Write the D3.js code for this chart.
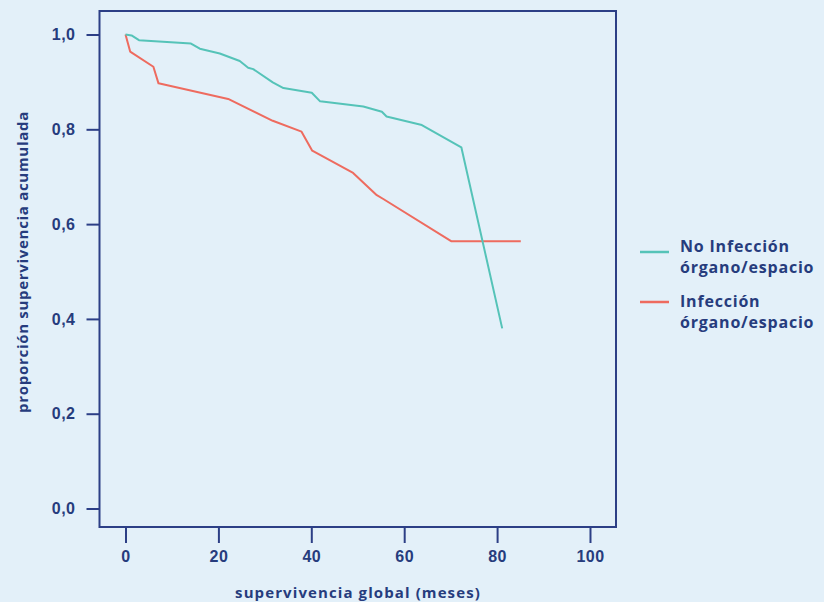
<!DOCTYPE html>
<html>
<head>
<meta charset="utf-8">
<script src="https://cdn.jsdelivr.net/npm/d3@7"></script>
<style>
  html, body { margin: 0; padding: 0; background: #e3f0f9; }
  svg { display: block; font-family: "Open Sans", sans-serif; font-weight: 700; }
  .axis text { fill: #263c7d; font-size: 16px; font-weight: 700; letter-spacing: 0.5px; }
  .axis line { stroke: #2c3f86; stroke-width: 2; }
  .axis path { display: none; }
</style>
</head>
<body>
<div id="chart"></div>
<script>
  // data
  var xTicks = [0, 20, 40, 60, 80, 100];
  var yTicks = [0, 0.2, 0.4, 0.6, 0.8, 1.0];

  var noInfMonths = [0, 1.3, 2.9, 14.1, 16.0, 20.3, 24.6, 26.4, 27.5, 31.7, 34.0, 40.1, 41.9, 51.2, 55.2, 56.2, 63.8, 72.3, 81.1];
  var noInfSurv   = [1.0, 0.998, 0.988, 0.981, 0.970, 0.960, 0.944, 0.930, 0.927, 0.899, 0.887, 0.877, 0.859, 0.848, 0.837, 0.827, 0.809, 0.762, 0.380];

  var infMonths = [0, 1.0, 6.0, 7.1, 22.1, 31.7, 37.9, 40.2, 49.0, 54.1, 55.5, 70.1, 85.1];
  var infSurv   = [1.0, 0.964, 0.932, 0.897, 0.864, 0.818, 0.795, 0.755, 0.708, 0.661, 0.653, 0.564, 0.564];

  var seriesNames = [["No Infección", "órgano/espacio"], ["Infección", "órgano/espacio"]];
  var seriesColors = ["#55c3b8", "#ee6b5f"];

  var width = 824, height = 602;
  var frame = { left: 99.5, right: 616, top: 11, bottom: 527 };
  var navy = "#2c3f86", textColor = "#263c7d";

  var svg = d3.select("#chart").append("svg")
    .attr("width", width)
    .attr("height", height);

  var x = d3.scaleLinear()
    .domain([-5.6, 105.6])
    .range([frame.left, frame.right]);

  var y = d3.scaleLinear()
    .domain([-0.039, 1.0496])
    .range([frame.bottom, frame.top]);

  var fmt = function(d) { return d3.format(".1f")(d).replace(".", ","); };

  var yAxis = d3.axisLeft(y)
    .tickValues(yTicks)
    .tickSizeInner(13)
    .tickSizeOuter(0)
    .tickPadding(11)
    .tickFormat(fmt);

  var xAxis = d3.axisBottom(x)
    .tickValues(xTicks)
    .tickSizeInner(15)
    .tickSizeOuter(0)
    .tickPadding(8)
    .tickFormat(d3.format("d"));

  svg.append("g")
    .attr("class", "y axis")
    .attr("transform", "translate(" + frame.left + ",0)")
    .call(yAxis);

  svg.append("g")
    .attr("class", "x axis")
    .attr("transform", "translate(0," + (frame.bottom + 1) + ")")
    .call(xAxis);

  // plot frame
  svg.append("rect")
    .attr("x", frame.left)
    .attr("y", frame.top)
    .attr("width", frame.right - frame.left)
    .attr("height", frame.bottom - frame.top)
    .attr("fill", "none")
    .attr("stroke", navy)
    .attr("stroke-width", 2);

  var line = d3.line()
    .x(function(d) { return x(d[0]); })
    .y(function(d) { return y(d[1]); });

  var series = [
    d3.zip(noInfMonths, noInfSurv),
    d3.zip(infMonths, infSurv)
  ];

  // red drawn first, teal on top
  [1, 0].forEach(function(i) {
    svg.append("path")
      .datum(series[i])
      .attr("fill", "none")
      .attr("stroke", seriesColors[i])
      .attr("stroke-width", 2)
      .attr("stroke-linejoin", "round")
      .attr("d", line);
  });

  // axis titles
  svg.append("text")
    .attr("x", 358)
    .attr("y", 598)
    .attr("text-anchor", "middle")
    .attr("fill", textColor)
    .style("font-size", "15px")
    .style("letter-spacing", "1.1px")
    .text("supervivencia global (meses)");

  svg.append("text")
    .attr("transform", "translate(28,262) rotate(-90)")
    .attr("text-anchor", "middle")
    .attr("fill", textColor)
    .style("font-size", "15px")
    .style("letter-spacing", "0.7px")
    .text("proporción supervivencia acumulada");

  // legend
  var legendLineY = [252, 302];
  var legendTextY = [252, 307];
  seriesNames.forEach(function(name, i) {
    var g = svg.append("g").attr("transform", "translate(640,0)");
    g.append("line")
      .attr("x1", 0).attr("x2", 29)
      .attr("y1", legendLineY[i]).attr("y2", legendLineY[i])
      .attr("stroke", seriesColors[i])
      .attr("stroke-width", 2.5);
    var t = g.append("text")
      .attr("fill", textColor)
      .style("font-size", "16px")
      .style("letter-spacing", "0.8px");
    t.append("tspan").attr("x", 40).attr("y", legendTextY[i]).text(name[0]);
    t.append("tspan").attr("x", 40).attr("y", legendTextY[i] + 21).text(name[1]);
  });
</script>
</body>
</html>
